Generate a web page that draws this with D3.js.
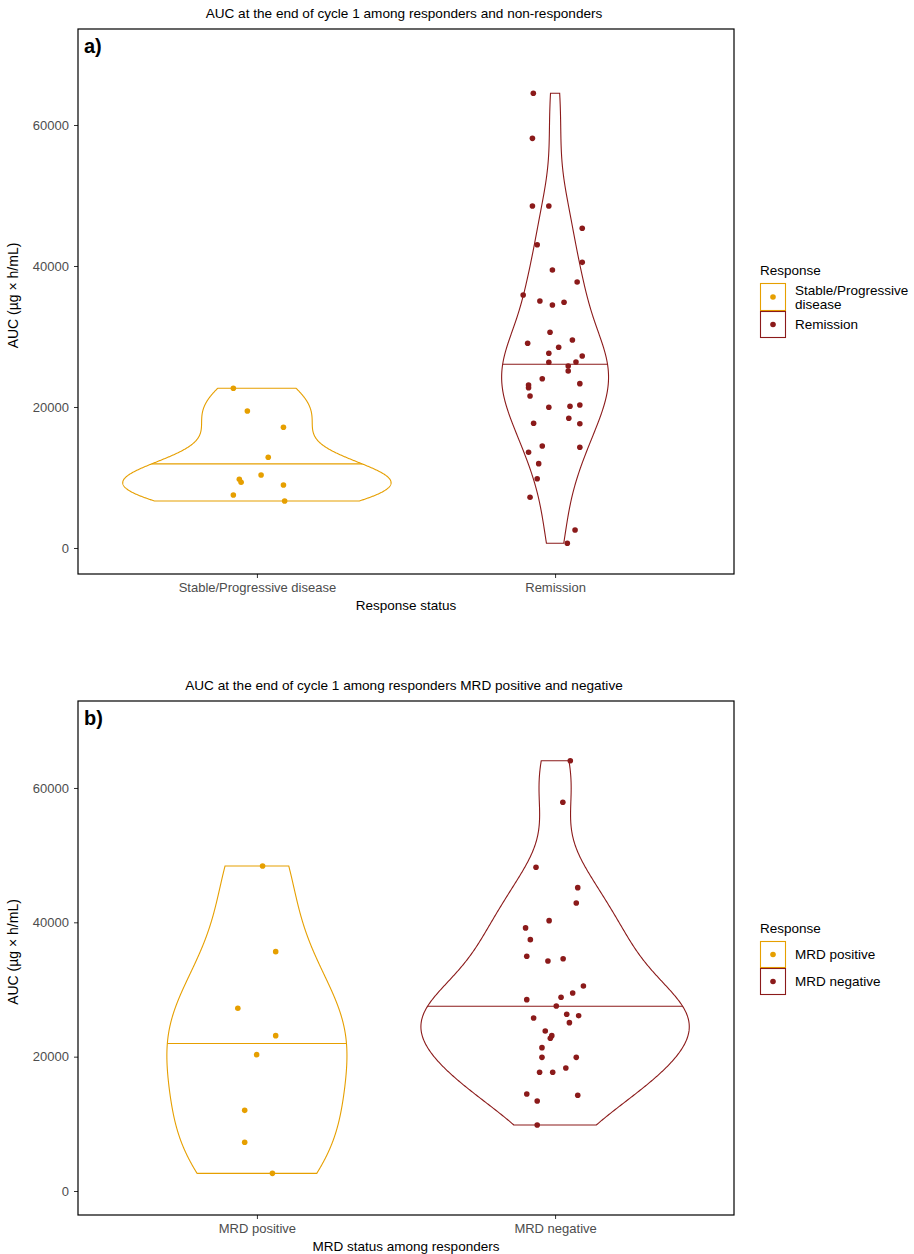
<!DOCTYPE html>
<html>
<head>
<meta charset="utf-8">
<script src="https://cdn.jsdelivr.net/npm/d3@7"></script>
<style>
  body { margin: 0; background: #fff; }
  text { font-family: "Liberation Sans", Arial, sans-serif; }
</style>
</head>
<body>
<div id="chart"></div>
<script>
// values (AUC, µg x h/mL) and horizontal jitter (category units)
const responseLabels = ["Stable/Progressive disease", "Remission"];
const responseLegend = [["Stable/Progressive", "disease"], ["Remission"]];
const stableAUC = [22650, 19430, 17120, 12870, 10350, 9740, 9320, 8940, 7520, 6670];
const stableJitter = [-0.079, -0.032, 0.089, 0.038, 0.014, -0.059, -0.053, 0.089, -0.079, 0.093];
const remissionAUC = [64500, 58110, 48510, 48510, 45350, 43020, 40520, 39430, 37730, 35890,
  35030, 34470, 34850, 30600, 29040, 29500, 28470, 27620, 27230, 26340, 26380, 25820, 25110,
  24010, 23310, 23120, 22740, 21560, 19960, 20100, 20280, 18400, 17690, 17630, 14470, 14280,
  13570, 11960, 9830, 7190, 2550, 670];
const remissionJitter = [-0.073, -0.076, -0.076, -0.021, 0.091, -0.060, 0.091, -0.009, 0.074, -0.107,
  -0.051, -0.009, 0.030, -0.017, -0.092, 0.058, 0.012, -0.021, 0.091, -0.021, 0.070, 0.044, 0.044,
  -0.043, 0.083, -0.089, -0.089, -0.084, -0.021, 0.050, 0.083, 0.046, -0.072, 0.083, -0.043, 0.083,
  -0.089, -0.055, -0.060, -0.084, 0.067, 0.041];

const mrdLabels = ["MRD positive", "MRD negative"];
const mrdPosAUC = [48390, 35630, 27200, 23130, 20300, 12010, 7250, 2630];
const mrdPosJitter = [0.019, 0.063, -0.064, 0.063, -0.001, -0.041, -0.041, 0.052];
const mrdNegAUC = [64060, 57870, 48190, 45160, 42880, 40250, 39170, 37420, 34940, 34240, 34580,
  30520, 29480, 28840, 28490, 27540, 26310, 26100, 25760, 25060, 23820, 23130, 22730, 21340,
  19900, 19900, 17670, 17670, 18310, 14440, 13400, 14250, 9830];
const mrdNegJitter = [0.051, 0.026, -0.064, 0.076, 0.071, -0.020, -0.099, -0.083, -0.095, -0.024, 0.027,
  0.095, 0.059, 0.020, -0.095, 0.004, 0.039, 0.079, -0.072, 0.048, -0.033, -0.011, -0.016, -0.044,
  -0.044, 0.071, -0.052, -0.008, 0.036, -0.095, -0.060, 0.076, -0.060];

const yTicks = [0, 20000, 40000, 60000];
const colors = ["#E69F00", "#8B1A1A"];

const W = 914, H = 1254;
const svg = d3.select("#chart").append("svg").attr("width", W).attr("height", H);

// R's bw.nrd0
function bwNrd0(x) {
  const s = x.slice().sort(d3.ascending);
  const hi = d3.deviation(s);
  const iqr = d3.quantileSorted(s, 0.75) - d3.quantileSorted(s, 0.25);
  let lo = Math.min(hi, iqr / 1.34);
  if (!(lo > 0)) lo = hi || Math.abs(s[0]) || 1;
  return 0.9 * lo * Math.pow(s.length, -0.2);
}

// gaussian kde trimmed to the data range, like stat_ydensity
function density(x) {
  const bw = bwNrd0(x);
  const lo = d3.min(x), hi = d3.max(x);
  return d3.range(512).map(i => {
    const y = lo + (i * (hi - lo)) / 511;
    const d = d3.mean(x, v => Math.exp(-0.5 * ((y - v) / bw) ** 2)) / (bw * Math.sqrt(2 * Math.PI));
    return { y: y, d: d };
  });
}

function quantileY(dens, p) {
  const tot = d3.sum(dens, d => d.d);
  let c = 0, prevC = 0, prevY = dens[0].y;
  for (const d of dens) {
    c += d.d / tot;
    if (c >= p) return prevY + ((p - prevC) / (c - prevC)) * (d.y - prevY);
    prevC = c; prevY = d.y;
  }
  return dens[dens.length - 1].y;
}

function drawPanel(o) {
  const g = svg.append("g");
  const x = d3.scaleLinear().domain([0.4, 2.6]).range([o.left, o.right]);
  const y = d3.scaleLinear().domain(o.yDomain).range([o.bottom, o.top]);

  const groups = o.series.map((s, i) => ({ vals: s, jit: o.jitter[i], dens: density(s), color: colors[i], pos: i + 1 }));
  const maxD = d3.max(groups, gr => d3.max(gr.dens, d => d.d));

  // title
  g.append("text")
    .attr("x", (o.left + o.right) / 2 - 2).attr("y", o.top - 11)
    .attr("text-anchor", "middle").attr("font-size", 13.6).attr("fill", "#000")
    .text(o.title);

  groups.forEach(gr => {
    const hw = d => (d.d / maxD) * 0.45;
    const pts = gr.dens.map(d => [x(gr.pos - hw(d)), y(d.y)])
      .concat(gr.dens.slice().reverse().map(d => [x(gr.pos + hw(d)), y(d.y)]));
    g.append("path")
      .attr("d", d3.line()(pts) + "Z")
      .attr("fill", "none").attr("stroke", gr.color).attr("stroke-width", 1.1);

    // median of the density, as draw_quantiles = 0.5
    const qy = quantileY(gr.dens, 0.5);
    const near = gr.dens.reduce((a, b) => Math.abs(b.y - qy) < Math.abs(a.y - qy) ? b : a);
    g.append("line")
      .attr("x1", x(gr.pos - hw(near))).attr("x2", x(gr.pos + hw(near)))
      .attr("y1", y(qy)).attr("y2", y(qy))
      .attr("stroke", gr.color).attr("stroke-width", 1.1);

    g.selectAll(null).data(gr.vals).enter().append("circle")
      .attr("cx", (d, i) => x(gr.pos + gr.jit[i]))
      .attr("cy", d => y(d))
      .attr("r", 2.8)
      .attr("fill", gr.color);
  });

  // axes
  const ya = g.append("g").attr("transform", `translate(${o.left},0)`)
    .call(d3.axisLeft(y).tickValues(yTicks).tickFormat(d3.format("d")).tickSize(4).tickPadding(5));
  ya.select(".domain").remove();
  ya.selectAll("line").attr("stroke", "#333");
  ya.selectAll("text").attr("font-size", 13).attr("fill", "#4D4D4D").attr("font-family", "Liberation Sans, Arial, sans-serif");

  const xa = g.append("g").attr("transform", `translate(0,${o.bottom})`)
    .call(d3.axisBottom(x).tickValues([1, 2]).tickFormat(d => o.labels[d - 1]).tickSize(4).tickPadding(5));
  xa.select(".domain").remove();
  xa.selectAll("line").attr("stroke", "#333");
  xa.selectAll("text").attr("font-size", 13).attr("fill", "#4D4D4D").attr("font-family", "Liberation Sans, Arial, sans-serif");

  // frame
  g.append("rect")
    .attr("x", o.left).attr("y", o.top)
    .attr("width", o.right - o.left).attr("height", o.bottom - o.top)
    .attr("fill", "none").attr("stroke", "#000").attr("stroke-width", 1.2);

  g.append("text")
    .attr("x", o.left + 6).attr("y", o.top + 24)
    .attr("font-size", 20).attr("font-weight", "bold")
    .text(o.tag);

  g.append("text")
    .attr("transform", `translate(${o.left - 60},${(o.top + o.bottom) / 2 - 6}) rotate(-90)`)
    .attr("text-anchor", "middle").attr("font-size", 14)
    .text("AUC (µg × h/mL)");

  g.append("text")
    .attr("x", (o.left + o.right) / 2).attr("y", o.bottom + 36)
    .attr("text-anchor", "middle").attr("font-size", 13.5)
    .text(o.xTitle);

  // legend
  const lg = g.append("g").attr("transform", `translate(760,${o.legendTop})`);
  lg.append("text").attr("x", 0).attr("y", 0).attr("font-size", 13.5).text("Response");
  let ky = 8;
  o.legend.forEach((lines, i) => {
    const kh = lines.length > 1 ? 28 : 27;
    lg.append("rect").attr("x", 0.5).attr("y", ky + 0.5).attr("width", 25).attr("height", kh - 1)
      .attr("fill", "#fff").attr("stroke", colors[i]).attr("stroke-width", 1.1);
    lg.append("circle").attr("cx", 13).attr("cy", ky + kh / 2).attr("r", 2.8).attr("fill", colors[i]);
    const t = lg.append("text").attr("x", 35).attr("font-size", 13.5);
    lines.forEach((ln, j) => {
      t.append("tspan").attr("x", 35)
        .attr("y", ky + kh / 2 + 4.5 + (j - (lines.length - 1) / 2) * 14)
        .text(ln);
    });
    ky += kh;
  });
}

drawPanel({
  title: "AUC at the end of cycle 1 among responders and non-responders",
  tag: "a)", xTitle: "Response status",
  left: 78, right: 734, top: 29, bottom: 574,
  yDomain: [-3690, 73620],
  series: [stableAUC, remissionAUC], jitter: [stableJitter, remissionJitter],
  labels: responseLabels, legend: responseLegend, legendTop: 275
});

drawPanel({
  title: "AUC at the end of cycle 1 among responders MRD positive and negative",
  tag: "b)", xTitle: "MRD status among responders",
  left: 78, right: 734, top: 701, bottom: 1215,
  yDomain: [-3573, 72949],
  series: [mrdPosAUC, mrdNegAUC], jitter: [mrdPosJitter, mrdNegJitter],
  labels: mrdLabels, legend: mrdLabels.map(d => [d]), legendTop: 933
});
</script>
</body>
</html>
